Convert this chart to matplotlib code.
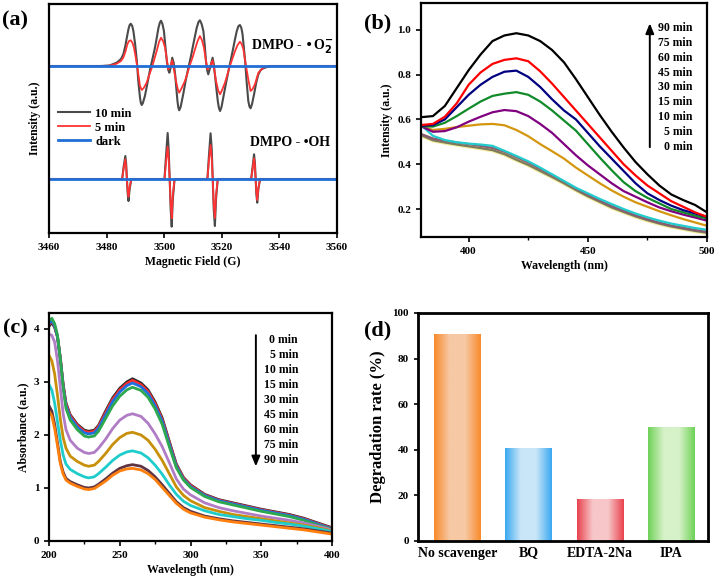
import numpy as np
import matplotlib
matplotlib.use("Agg")
import matplotlib.pyplot as plt
from matplotlib.colors import LinearSegmentedColormap
from matplotlib.ticker import MultipleLocator

plt.rcParams['font.family'] = ['Liberation Serif', 'DejaVu Serif']
plt.rcParams['font.weight'] = 'bold'
plt.rcParams['axes.labelweight'] = 'bold'
plt.rcParams['axes.linewidth'] = 1.6

# ---------------- (a) EPR spectra ----------------
# field (G) and signal relative to baseline (a.u.)
o2_field_10 = [3460, 3478, 3481, 3483.5, 3485, 3485.8, 3486.5, 3487, 3487.6, 3488.0, 3488.4, 3488.9, 3489.3,
               3489.9, 3490.5, 3491.0, 3491.6, 3491.9, 3492.2, 3492.6, 3493.3, 3494.2, 3495.1, 3496.0,
               3496.8, 3497.4, 3498, 3498.5, 3498.9, 3499.4, 3499.9, 3500.4, 3500.9, 3501.4, 3501.8,
               3502.3, 3502.8, 3503.3, 3503.8, 3504.2, 3504.6, 3504.9, 3505.2, 3505.7, 3506.6, 3507.5,
               3508.4, 3509.3, 3510.1, 3510.7, 3511.3, 3511.9, 3512.4, 3513.0, 3513.6, 3514.1, 3514.5,
               3514.9, 3515.3, 3516.0, 3516.8, 3517.2, 3517.6, 3518.1, 3518.6, 3519.0, 3519.4, 3519.9,
               3520.5, 3521.4, 3522.3, 3523.2, 3524, 3524.6, 3525.2, 3525.8, 3526.3, 3526.8, 3527.2,
               3527.6, 3528.1, 3528.6, 3529.2, 3529.6, 3530, 3530.5, 3531.2, 3532, 3532.7, 3533.5,
               3534.4, 3536.7, 3560]
o2_int_10 = [0, 0, 0.5, 3.3, 7, 11.7, 20, 28, 37, 41, 42.3, 40, 35,
             22, 5, -15, -31.7, -37, -39, -37, -30, -17, -3.3, 8,
             18.3, 28, 38, 43.5, 45.3, 42, 35, 20, 5, -4, -6.7,
             -1, 8.3, 3, -8.3, -22, -35, -41.5, -44.3, -41, -28.3, -14,
             -1.7, 10, 21.7, 30, 38.3, 44, 45.7, 42, 35, 20, 5,
             -4, -8.3, -1, 8.3, 2, -8.3, -22, -35, -42, -45, -41,
             -31.7, -18, -5, 7, 18.3, 27, 35, 40, 41, 38, 31.7,
             20, 5, -15, -35, -40.5, -42.3, -38, -28.3, -16, -8.3, -4,
             -2.3, 0, 0]
o2_field_5 = [3460, 3478, 3481, 3483.5, 3485, 3485.8, 3486.5, 3487.2, 3487.8, 3488.4, 3489.0, 3489.5,
              3490.1, 3490.7, 3491.2, 3491.6, 3492.2, 3492.9, 3493.9, 3494.8, 3495.7, 3496.6, 3497.4,
              3498.2, 3498.9, 3499.6, 3500.3, 3500.9, 3501.4, 3501.9, 3502.8, 3503.4, 3504.1, 3504.7,
              3505.2, 3505.9, 3507.2, 3508.1, 3509, 3509.9, 3510.7, 3511.6, 3512.4, 3513.1, 3513.8,
              3514.4, 3515, 3515.9, 3516.8, 3517.4, 3518, 3518.7, 3519.4, 3520.1, 3521.1, 3522,
              3522.8, 3523.7, 3524.6, 3525.5, 3526.3, 3526.9, 3527.5, 3528, 3528.6, 3529.3, 3530,
              3530.7, 3531.5, 3532.7, 3534.4, 3536.7, 3560]
o2_int_5 = [0, 0, 0.3, 2.3, 5, 8.3, 14, 21.7, 25, 25.7, 23, 18.3,
            9, -1.7, -12, -20, -24, -22, -16.7, -9, -1.7, 7, 15,
            24, 28.3, 25, 18.3, 7, -3.3, -2, 5.7, -4, -15, -23,
            -26.7, -23, -15, -7, 1.7, 9, 16.7, 25, 30, 26, 18.3,
            7, -3.3, -1, 5.7, -4, -15, -24, -28.3, -24, -16.7, -8,
            0, 7.5, 15, 21, 24.3, 22, 16.7, 7, -3.3, -15, -25,
            -23, -18.3, -6.7, -1.7, 0, 0]
oh_field = [3460, 3485.4, 3485.9, 3486.5, 3486.8, 3487.05, 3487.3, 3487.6, 3488.0, 3488.6,
            3500.1, 3500.6, 3501.2, 3501.55, 3501.9, 3502.25, 3502.6, 3503.0, 3503.6,
            3515, 3515.5, 3516.1, 3516.5, 3516.85, 3517.2, 3517.6, 3518.0, 3518.6,
            3530.2, 3530.7, 3531.2, 3531.5, 3531.75, 3532.0, 3532.3, 3532.7, 3533.3, 3560]
oh_int_10 = [0, 0, 12, 23, 15, 0, -14, -22, -10, 0,
             0, 22, 46, 30, 0, -30, -47.7, -20, 0,
             0, 22, 45.7, 30, 0, -30, -47, -20, 0,
             0, 12, 24.7, 16, 0, -15, -23.7, -10, 0, 0]
oh_int_5 = [0, 0, 10, 19.7, 12, 0, -11, -17.7, -8, 0,
            0, 16, 32.3, 20, 0, -25, -39.3, -16, 0,
            0, 17, 34, 21, 0, -25, -39, -16, 0,
            0, 10, 20.7, 13, 0, -13, -21, -9, 0, 0]
dark_field = [3460, 3560]
dark_int = [0, 0]
o2_offset = 167
oh_offset = 54

# ---------------- (b) PL spectra ----------------
pl_wl = [380, 385, 390, 395, 400, 405, 410, 415, 420, 425, 430, 435, 440,
         445, 450, 455, 460, 465, 470, 475, 480, 485, 490, 495, 500]
pl_labels = ['0 min', '5 min', '10 min', '15 min', '30 min', '45 min', '60 min', '75 min', '90 min']
pl_0 = [0.53, 0.507, 0.497, 0.488, 0.48, 0.472, 0.463, 0.445, 0.42, 0.397, 0.37, 0.343, 0.315,
        0.285, 0.257, 0.232, 0.207, 0.187, 0.167, 0.15, 0.135, 0.122, 0.112, 0.102, 0.094]
pl_5 = [0.535, 0.515, 0.505, 0.497, 0.49, 0.482, 0.473, 0.456, 0.432, 0.408, 0.38, 0.352, 0.323,
        0.292, 0.264, 0.238, 0.213, 0.192, 0.172, 0.155, 0.139, 0.126, 0.116, 0.106, 0.098]
pl_10 = [0.575, 0.527, 0.508, 0.498, 0.492, 0.488, 0.482, 0.46, 0.437, 0.413, 0.385, 0.355, 0.325,
         0.295, 0.27, 0.245, 0.222, 0.2, 0.18, 0.163, 0.148, 0.135, 0.125, 0.115, 0.107]
pl_15 = [0.57, 0.553, 0.558, 0.566, 0.572, 0.578, 0.58, 0.574, 0.553, 0.525, 0.49, 0.458, 0.425,
         0.385, 0.35, 0.315, 0.283, 0.255, 0.23, 0.21, 0.19, 0.172, 0.155, 0.14, 0.125]
pl_30 = [0.57, 0.545, 0.548, 0.565, 0.59, 0.612, 0.632, 0.642, 0.637, 0.615, 0.58, 0.54, 0.49,
         0.44, 0.395, 0.355, 0.315, 0.28, 0.255, 0.23, 0.207, 0.19, 0.175, 0.162, 0.148]
pl_45 = [0.57, 0.568, 0.585, 0.615, 0.648, 0.68, 0.705, 0.715, 0.722, 0.71, 0.68, 0.64, 0.595,
         0.55, 0.49, 0.43, 0.373, 0.32, 0.28, 0.25, 0.225, 0.2, 0.185, 0.17, 0.158]
pl_60 = [0.572, 0.575, 0.6, 0.655, 0.71, 0.755, 0.79, 0.813, 0.818, 0.79, 0.745, 0.69, 0.64,
         0.6, 0.54, 0.48, 0.425, 0.37, 0.315, 0.27, 0.24, 0.215, 0.195, 0.18, 0.165]
pl_75 = [0.575, 0.58, 0.612, 0.672, 0.755, 0.81, 0.848, 0.866, 0.873, 0.86, 0.815, 0.76, 0.70,
         0.64, 0.58, 0.52, 0.46, 0.40, 0.35, 0.305, 0.27, 0.235, 0.21, 0.185, 0.165]
pl_90 = [0.61, 0.615, 0.66, 0.74, 0.82, 0.89, 0.95, 0.975, 0.985, 0.975, 0.95, 0.91, 0.855,
         0.78, 0.70, 0.62, 0.545, 0.475, 0.41, 0.355, 0.305, 0.265, 0.24, 0.218, 0.185]

# ---------------- (c) UV-vis absorbance ----------------
uv_wl = [200, 202, 204, 206, 208, 210, 212, 215, 220, 225, 228, 232, 235, 240, 245, 250, 255, 259,
         265, 270, 275, 280, 285, 290, 295, 300, 310, 320, 330, 340, 350, 360, 370, 380, 390, 400]
uv_labels = ['0 min', '5 min', '10 min', '15 min', '30 min', '45 min', '60 min', '75 min', '90 min']
uv_0 = [4.05, 4.12, 4.03, 3.85, 3.45, 2.95, 2.6, 2.38, 2.2, 2.09, 2.07, 2.09, 2.18, 2.45, 2.7, 2.88, 3.0, 3.06,
        2.98, 2.85, 2.62, 2.32, 1.88, 1.45, 1.2, 1.06, 0.88, 0.78, 0.72, 0.66, 0.6, 0.55, 0.5, 0.43, 0.34, 0.25]
uv_5 = [4.08, 4.15, 4.05, 3.85, 3.45, 2.95, 2.58, 2.36, 2.18, 2.07, 2.05, 2.07, 2.16, 2.42, 2.67, 2.85, 2.97, 3.03,
        2.95, 2.82, 2.59, 2.29, 1.86, 1.43, 1.19, 1.05, 0.87, 0.77, 0.71, 0.65, 0.59, 0.54, 0.49, 0.42, 0.33, 0.24]
uv_10 = [4.1, 4.16, 4.06, 3.85, 3.43, 2.92, 2.55, 2.33, 2.15, 2.04, 2.02, 2.04, 2.13, 2.38, 2.63, 2.81, 2.93, 2.98,
         2.91, 2.78, 2.55, 2.26, 1.83, 1.41, 1.17, 1.03, 0.86, 0.76, 0.7, 0.64, 0.58, 0.53, 0.48, 0.41, 0.32, 0.23]
uv_15 = [4.15, 4.2, 4.1, 3.88, 3.42, 2.9, 2.5, 2.28, 2.1, 1.98, 1.96, 1.98, 2.07, 2.31, 2.55, 2.73, 2.85, 2.9,
         2.84, 2.71, 2.49, 2.2, 1.78, 1.38, 1.15, 1.01, 0.84, 0.74, 0.68, 0.62, 0.56, 0.51, 0.46, 0.39, 0.3, 0.22]
uv_30 = [3.9, 3.88, 3.75, 3.4, 2.9, 2.4, 2.1, 1.9, 1.75, 1.67, 1.65, 1.67, 1.75, 1.92, 2.12, 2.28, 2.37, 2.4,
         2.35, 2.22, 2.02, 1.78, 1.48, 1.17, 0.98, 0.87, 0.72, 0.63, 0.57, 0.52, 0.47, 0.43, 0.39, 0.34, 0.28, 0.21]
uv_45 = [3.5, 3.4, 3.15, 2.75, 2.3, 1.95, 1.75, 1.6, 1.5, 1.43, 1.41, 1.43, 1.5, 1.65, 1.82, 1.95, 2.03, 2.05,
         2.0, 1.9, 1.73, 1.52, 1.27, 1.02, 0.86, 0.76, 0.63, 0.56, 0.5, 0.46, 0.42, 0.38, 0.34, 0.3, 0.25, 0.19]
uv_60 = [2.95, 2.85, 2.6, 2.25, 1.9, 1.62, 1.45, 1.35, 1.27, 1.21, 1.19, 1.21, 1.27, 1.39, 1.52, 1.62, 1.68, 1.7,
         1.66, 1.57, 1.43, 1.26, 1.06, 0.88, 0.75, 0.67, 0.57, 0.5, 0.46, 0.42, 0.39, 0.35, 0.32, 0.28, 0.23, 0.18]
uv_75 = [2.55, 2.45, 2.2, 1.85, 1.5, 1.3, 1.18, 1.12, 1.06, 1.01, 1.0, 1.02, 1.07, 1.17, 1.28, 1.37, 1.42, 1.44,
         1.41, 1.33, 1.21, 1.06, 0.9, 0.74, 0.63, 0.56, 0.47, 0.42, 0.38, 0.35, 0.32, 0.29, 0.26, 0.23, 0.19, 0.15]
uv_90 = [2.45, 2.36, 2.12, 1.8, 1.46, 1.26, 1.15, 1.09, 1.03, 0.98, 0.97, 0.99, 1.04, 1.13, 1.24, 1.32, 1.36, 1.37,
         1.34, 1.27, 1.16, 1.01, 0.86, 0.71, 0.6, 0.53, 0.45, 0.4, 0.36, 0.33, 0.3, 0.27, 0.24, 0.21, 0.17, 0.13]

# ---------------- (d) scavenger test ----------------
scavengers = ['No scavenger', 'BQ', 'EDTA-2Na', 'IPA']
degradation = [91, 40.7, 18.6, 49.8]

fig = plt.figure(figsize=(7.17, 5.83), dpi=100)
W, H = 717, 583


def add_ax(x0, y0, x1, y1):
    return fig.add_axes([x0 / W, 1 - y1 / H, (x1 - x0) / W, (y1 - y0) / H])


ax_a = add_ax(49, 4, 337, 233)
ax_b = add_ax(421, 3, 707, 237)
ax_c = add_ax(49, 313, 332, 541)
ax_d = add_ax(418, 313, 708, 541)

tick_kw = dict(direction='out', labelsize=8, width=1.2)

# ---- (a)
c10, c5, cdark = '#4a4a4a', '#ff3333', '#1f6fd6'
ax_a.plot(o2_field_10, np.array(o2_int_10) + o2_offset, color=c10, lw=1.5, label='10 min')
ax_a.plot(o2_field_5, np.array(o2_int_5) + o2_offset, color=c5, lw=1.3, label='5 min')
ax_a.plot(dark_field, np.array(dark_int) + o2_offset, color=cdark, lw=2.0, label='dark')
ax_a.plot(oh_field, np.array(oh_int_10) + oh_offset, color=c10, lw=1.5)
ax_a.plot(oh_field, np.array(oh_int_5) + oh_offset, color=c5, lw=1.3)
ax_a.plot(dark_field, np.array(dark_int) + oh_offset, color=cdark, lw=2.0)
ax_a.set_xlim(3460, 3560)
ax_a.set_ylim(0, 229)
ax_a.set_yticks([])
ax_a.xaxis.set_major_locator(MultipleLocator(20))
ax_a.tick_params(axis='x', length=3.5, **tick_kw)
ax_a.set_xlabel('Magnetic Field (G)', fontsize=8.5, labelpad=3)
ax_a.set_ylabel('Intensity (a.u.)', fontsize=8.5, labelpad=6)
ax_a.text(3530.3, 187, 'DMPO - •O$_\\mathbf{2}^{\\mathbf{-}}$', fontsize=10, va='center')
ax_a.text(3529.8, 90, 'DMPO - •OH', fontsize=10, va='center')
leg = ax_a.legend(loc='upper left', bbox_to_anchor=(0.0, 0.585), frameon=False, fontsize=9,
                  handlelength=2.6, handletextpad=0.4, labelspacing=0.15, borderaxespad=0.3)
for t in leg.get_texts():
    t.set_fontweight('bold')

# ---- (b)
pl_series = [pl_0, pl_5, pl_10, pl_15, pl_30, pl_45, pl_60, pl_75, pl_90]
pl_colors = ['#7d7b5c', '#8a5a72', '#22cccc', '#d4960f', '#800080', '#118a2a', '#000080', '#ff0000', '#000000']
ax_b.plot(pl_wl, pl_0, color='#f3eda0', lw=3.2, zorder=1)
for vals, col in zip(pl_series, pl_colors):
    ax_b.plot(pl_wl, vals, color=col, lw=1.6, zorder=2)
ax_b.set_xlim(380, 500)
ax_b.set_ylim(0.075, 1.12)
ax_b.xaxis.set_major_locator(MultipleLocator(50))
ax_b.xaxis.set_minor_locator(MultipleLocator(25))
ax_b.yaxis.set_major_locator(MultipleLocator(0.2))
ax_b.tick_params(which='major', length=3.5, **tick_kw)
ax_b.tick_params(which='minor', length=2, direction='out', width=1)
ax_b.set_xlabel('Wavelength (nm)', fontsize=8.5, labelpad=3)
ax_b.set_ylabel('Intensity (a.u.)', fontsize=8.5, labelpad=3)
ax_b.annotate('', xy=(0.80, 0.925), xytext=(0.80, 0.372), xycoords='axes fraction',
              arrowprops=dict(arrowstyle='-|>,head_length=0.6,head_width=0.25', color='black', lw=1.4))
for i, lab in enumerate(pl_labels):
    ax_b.text(0.948, 0.385 + 0.0635 * i, lab, transform=ax_b.transAxes, ha='right', va='center', fontsize=8.5)

# ---- (c)
uv_series = [uv_0, uv_5, uv_10, uv_15, uv_30, uv_45, uv_60, uv_75, uv_90]
uv_colors = ['#2b2b2b', '#ff2a2a', '#1f6fe0', '#2ea84f', '#b07cc6', '#c8900a', '#1fcccc', '#5e3445', '#ff7f0e']
for vals, col in zip(uv_series, uv_colors):
    ax_c.plot(uv_wl, vals, color=col, lw=2.0)
ax_c.set_xlim(200, 400)
ax_c.set_ylim(0, 4.3)
ax_c.xaxis.set_major_locator(MultipleLocator(50))
ax_c.xaxis.set_minor_locator(MultipleLocator(25))
ax_c.yaxis.set_major_locator(MultipleLocator(1))
ax_c.tick_params(which='major', length=3.5, **tick_kw)
ax_c.tick_params(which='minor', length=2, direction='out', width=1)
ax_c.set_xlabel('Wavelength (nm)', fontsize=8.5, labelpad=3)
ax_c.set_ylabel('Absorbance (a.u.)', fontsize=8.5, labelpad=3)
ax_c.annotate('', xy=(0.731, 0.315), xytext=(0.731, 0.915), xycoords='axes fraction',
              arrowprops=dict(arrowstyle='-|>,head_length=0.6,head_width=0.25', color='black', lw=1.4))
for i, lab in enumerate(uv_labels):
    ax_c.text(0.88, 0.882 - 0.0659 * i, lab, transform=ax_c.transAxes, ha='right', va='center', fontsize=8.5)

# ---- (d)
bar_edges = ['#f98a2b', '#3aa8f0', '#e8434e', '#6fd158']
bar_light = ['#f6c9a4', '#c8e6f8', '#f7c6c8', '#d6f2c8']
xpos = np.arange(len(scavengers))
bars = ax_d.bar(xpos, degradation, width=0.65, color='none', edgecolor='none', zorder=2)
grad = np.linspace(0, 1, 128).reshape(1, -1)
for b, ce, cl in zip(bars, bar_edges, bar_light):
    cmap = LinearSegmentedColormap.from_list('g', [ce, cl, cl, ce])
    x0 = b.get_x()
    im = ax_d.imshow(grad, extent=[x0, x0 + b.get_width(), 0, b.get_height()], aspect='auto',
                     cmap=cmap, zorder=1)
    im.set_clip_path(b)
ax_d.set_xlim(-0.55, 3.52)
ax_d.set_ylim(0, 100)
ax_d.set_xticks(xpos)
ax_d.set_xticklabels(scavengers, fontsize=10)
ax_d.yaxis.set_major_locator(MultipleLocator(20))
ax_d.tick_params(axis='x', length=0, pad=4)
ax_d.tick_params(axis='y', length=3, direction='out', labelsize=8, width=1.2)
ax_d.set_ylabel('Degradation rate (%)', fontsize=12, labelpad=5)
for s in ax_d.spines.values():
    s.set_linewidth(2)

# panel labels
fig.text(2 / W, 1 - 20 / H, '(a)', fontsize=16, fontweight='bold', va='center')
fig.text(364 / W, 1 - 23 / H, '(b)', fontsize=16, fontweight='bold', va='center')
fig.text(3 / W, 1 - 328 / H, '(c)', fontsize=16, fontweight='bold', va='center')
fig.text(364 / W, 1 - 330 / H, '(d)', fontsize=16, fontweight='bold', va='center')

fig.savefig('out.png', dpi=100)
